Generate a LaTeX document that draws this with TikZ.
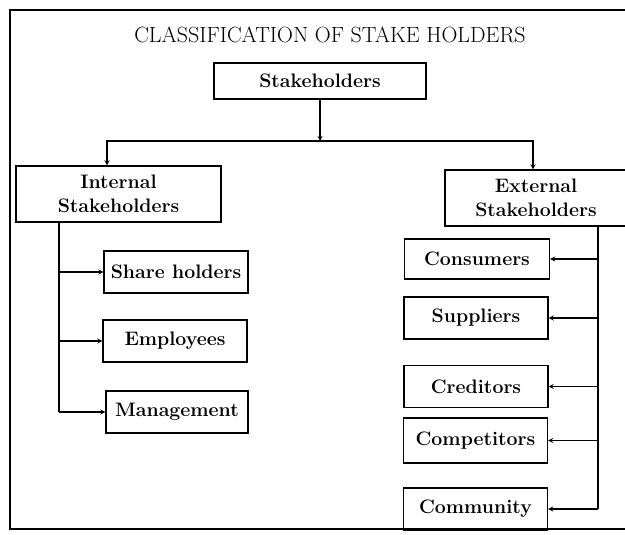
\documentclass[tikz,border=0pt]{standalone}
\usepackage{tikz}
\usetikzlibrary{arrows}

\begin{document}
\begin{tikzpicture}[x=1pt, y=-1pt,
box/.style={rectangle, draw=black, line width=1.4pt, minimum width=#1,
minimum height=42pt, inner sep=0pt, align=center,
font=\bfseries\fontsize{19.5}{24}\selectfont},
box/.default=144pt,
arrow/.style={->, line width=1.2pt, >=stealth},
frame/.style={line width=1.4pt}
]
\useasboundingbox (0,0) rectangle (625,535);

% Frame and title
\draw[frame] (640,10) -- (10,10) -- (10,529) -- (640,529);
\node[font=\fontsize{22}{26}\selectfont] (title) at (330,35)
{CLASSIFICATION OF STAKE HOLDERS};

% Top level
\node[box=212pt, minimum height=36pt] (stake) at (320,81) {Stakeholders};
\node[box=205pt, minimum height=56pt] (internal) at (118.5,194)
{Internal\\Stakeholders};
\node[box=182pt, minimum height=56pt] (external) at (536,198)
{External\\Stakeholders};

% Internal stakeholders
\node[box] (share) at (176,272) {Share holders};
\node[box] (employees) at (175,341) {Employees};
\node[box=142pt] (management) at (177,412) {Management};

% External stakeholders
\node[box=145pt, minimum height=40pt] (consumers) at (477,259) {Consumers};
\node[box] (suppliers) at (476,318) {Suppliers};
\node[box] (creditors) at (476,386.5) {Creditors};
\node[box, minimum height=45pt] (competitors) at (475.5,440.5) {Competitors};
\node[box] (community) at (475.5,509) {Community};

% Branch points
\coordinate (split) at (320,141);
\coordinate (intdrop) at (107,141);
\coordinate (extdrop) at (533,141);
\coordinate (inttrunk) at (59,222);
\coordinate (exttrunk) at (598,226);

% Arrows
\draw[arrow] (stake) -- (split);
\draw[arrow] (split) -- (intdrop) -- (intdrop |- internal.north);
\draw[arrow] (split) -- (extdrop) -- (extdrop |- external.north);

\draw[line width=1.2pt] (inttrunk) -- (inttrunk |- management.east);
\draw[arrow] (inttrunk |- share.west) -- (share.west);
\draw[arrow] (inttrunk |- employees.west) -- (employees.west);
\draw[arrow] (inttrunk |- management.west) -- (management.west);

\draw[line width=1.2pt] (exttrunk) -- (exttrunk |- community.east);
\draw[arrow] (exttrunk |- consumers.east) -- (consumers.east);
\draw[arrow] (exttrunk |- suppliers.east) -- (suppliers.east);
\draw[arrow] (exttrunk |- creditors.east) -- (creditors.east);
\draw[arrow] (exttrunk |- competitors.east) -- (competitors.east);
\draw[arrow] (exttrunk |- community.east) -- (community.east);

\end{tikzpicture}
\end{document}
